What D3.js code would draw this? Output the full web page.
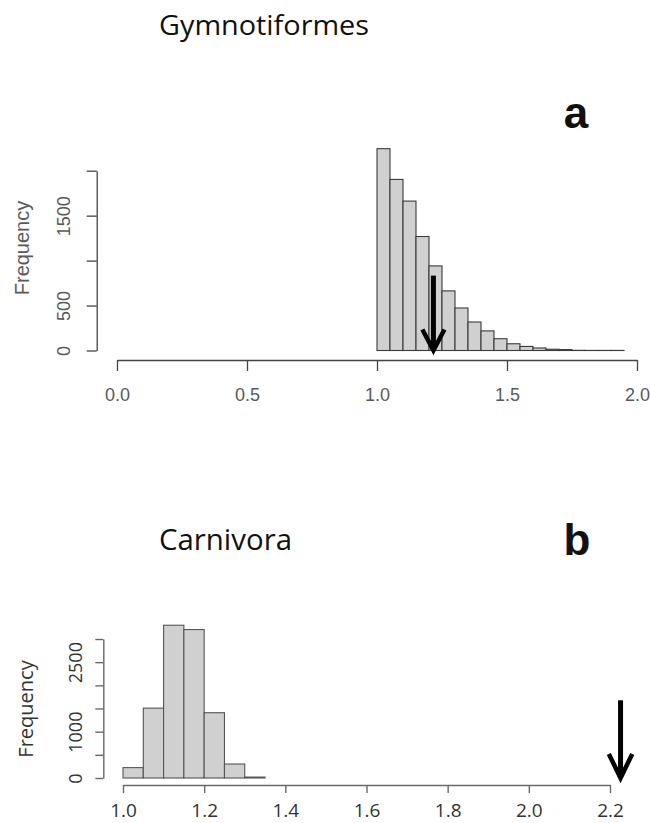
<!DOCTYPE html>
<html>
<head>
<meta charset="utf-8">
<script src="https://cdn.jsdelivr.net/npm/d3@7"></script>
<style>
  html, body { margin: 0; padding: 0; background: #fff; }
  svg { display: block; }
</style>
</head>
<body>
<svg id="chart" width="650" height="823"></svg>
<script>
// ---------- Panel a: Gymnotiformes ----------
const gymnoEdges = [1.00,1.05,1.10,1.15,1.20,1.25,1.30,1.35,1.40,1.45,1.50,1.55,1.60,1.65,1.70,1.75,1.80,1.85,1.90,1.95];
const gymnoCounts = [2245,1903,1662,1268,941,663,473,317,218,131,75,45,28,14,10,2,1,1,1];
const gymnoXTicks = [0.0, 0.5, 1.0, 1.5, 2.0];
const gymnoYTicks = [0, 500, 1000, 1500, 2000];
const gymnoYLabels = [0, 500, 1500];
const gymnoArrow = [1.217, 833];   // observed value, arrow top (frequency)

// ---------- Panel b: Carnivora ----------
const carnEdges = [1.00,1.05,1.10,1.15,1.20,1.25,1.30,1.35,1.40,1.45,1.50,1.55,1.60,1.65,1.70,1.75,1.80,1.85,1.90,1.95,2.00,2.05,2.10,2.15,2.20,2.25];
const carnCounts = [224,1508,3297,3204,1409,302,20,0,0,0,0,0,0,0,0,0,0,0,0,0,0,0,0,0,0];
const carnXTicks = [1.0, 1.2, 1.4, 1.6, 1.8, 2.0, 2.2];
const carnYTicks = [0, 500, 1000, 1500, 2000, 2500, 3000];
const carnYLabels = [0, 1000, 2500];
const carnArrow = [2.226, 1677];

const svg = d3.select("#chart");
svg.append("rect").attr("width", 650).attr("height", 823).attr("fill", "#fff");

function bins(edges, counts) {
  return counts.map((c, i) => ({x0: edges[i], x1: edges[i + 1], n: c}));
}

function drawArrow(g, x, y, xv, top, half, headH) {
  const px = x(xv), y0 = y(0), yt = y(top);
  g.append("line")
    .attr("x1", px).attr("x2", px).attr("y1", yt).attr("y2", y0 - 2)
    .attr("stroke", "#000").attr("stroke-width", 5);
  g.append("path")
    .attr("d", d3.line()([[px - half, y0 - headH], [px, y0], [px + half, y0 - headH]]))
    .attr("fill", "none").attr("stroke", "#000").attr("stroke-width", 4.5)
    .attr("stroke-linejoin", "miter").attr("stroke-miterlimit", 10);
}

// ===== Panel a =====
{
  const x = d3.scaleLinear().domain([0, 2]).range([117, 637]);
  const y = d3.scaleLinear().domain([0, 2000]).range([350.5, 170.7]);
  const g = svg.append("g");
  const axisCol = "#444", textCol = "#5a5a5a";

  g.selectAll("rect.bar").data(bins(gymnoEdges, gymnoCounts)).join("rect")
    .attr("class", "bar")
    .attr("x", d => x(d.x0)).attr("width", d => x(d.x1) - x(d.x0))
    .attr("y", d => y(d.n)).attr("height", d => y(0) - y(d.n))
    .attr("fill", "#d0d0d0").attr("stroke", "#3a3a3a").attr("stroke-width", 1.1);

  const xa = g.append("g").attr("transform", "translate(0,360)")
    .call(d3.axisBottom(x).tickValues(gymnoXTicks).tickSize(11).tickSizeOuter(0).tickPadding(4)
      .tickFormat(d3.format(".1f")));
  xa.select(".domain").attr("stroke", axisCol).attr("stroke-width", 1.3);
  xa.selectAll(".tick line").attr("stroke", axisCol).attr("stroke-width", 1.3);
  xa.selectAll(".tick text").attr("y", 41).attr("dy", 0)
    .attr("font-family", "Liberation Sans, Arial, sans-serif").attr("font-size", 18).attr("fill", textCol);

  const ya = g.append("g").attr("transform", "translate(96.7,0)")
    .call(d3.axisLeft(y).tickValues(gymnoYTicks).tickSize(10).tickSizeOuter(0)
      .tickFormat(d => gymnoYLabels.includes(d) ? String(d) : ""));
  ya.select(".domain").attr("stroke", axisCol).attr("stroke-width", 1.3);
  ya.selectAll(".tick line").attr("stroke", axisCol).attr("stroke-width", 1.3);
  ya.selectAll(".tick text").attr("x", 0).attr("dy", 0).attr("text-anchor", "middle")
    .attr("transform", "translate(-27,0) rotate(-90)")
    .attr("font-family", "Liberation Sans, Arial, sans-serif").attr("font-size", 18).attr("fill", textCol);

  g.append("text").attr("transform", "translate(29,248) rotate(-90)")
    .attr("text-anchor", "middle").attr("font-family", "Liberation Sans, Arial, sans-serif")
    .attr("font-size", 20).attr("fill", textCol).text("Frequency");

  drawArrow(g, x, y, gymnoArrow[0], gymnoArrow[1], 11, 21);

  svg.append("text").attr("x", 159).attr("y", 35)
    .attr("font-family", "Open Sans, sans-serif").attr("font-size", 28).attr("fill", "#111")
    .attr("textLength", 210).attr("lengthAdjust", "spacingAndGlyphs").text("Gymnotiformes");
  svg.append("text").attr("x", 576).attr("y", 128).attr("text-anchor", "middle")
    .attr("font-family", "Liberation Sans, Arial, sans-serif").attr("font-weight", "bold")
    .attr("font-size", 44).attr("fill", "#111").text("a");
}

// ===== Panel b =====
{
  const x = d3.scaleLinear().domain([1.0, 2.2]).range([123, 610]);
  const y = d3.scaleLinear().domain([0, 3000]).range([778, 639]);
  const g = svg.append("g");
  const axisCol = "#6a6a6a", textCol = "#333";

  g.selectAll("rect.bar").data(bins(carnEdges, carnCounts)).join("rect")
    .attr("class", "bar")
    .attr("x", d => x(d.x0)).attr("width", d => x(d.x1) - x(d.x0))
    .attr("y", d => y(d.n)).attr("height", d => y(0) - y(d.n))
    .attr("fill", "#d0d0d0").attr("stroke", "#555").attr("stroke-width", 1.1);

  const xa = g.append("g").attr("transform", "translate(0,785)")
    .call(d3.axisBottom(x).tickValues(carnXTicks).tickSize(8).tickSizeOuter(0)
      .tickFormat(d3.format(".1f")));
  xa.select(".domain").attr("stroke", axisCol).attr("stroke-width", 1.4);
  xa.selectAll(".tick line").attr("stroke", axisCol).attr("stroke-width", 1.4);
  xa.selectAll(".tick text").attr("y", 32).attr("dy", 0)
    .attr("font-family", "Open Sans, sans-serif").attr("font-size", 19).attr("fill", textCol);

  const ya = g.append("g").attr("transform", "translate(103.3,0)")
    .call(d3.axisLeft(y).tickValues(carnYTicks).tickSize(8).tickSizeOuter(0)
      .tickFormat(d => carnYLabels.includes(d) ? String(d) : ""));
  ya.select(".domain").attr("stroke", axisCol).attr("stroke-width", 1.4);
  ya.selectAll(".tick line").attr("stroke", axisCol).attr("stroke-width", 1.4);
  ya.selectAll(".tick text").attr("x", 0).attr("dy", 0).attr("text-anchor", "middle")
    .attr("transform", "translate(-21.5,0) rotate(-90)")
    .attr("font-family", "Open Sans, sans-serif").attr("font-size", 18).attr("fill", textCol);

  g.append("text").attr("transform", "translate(33,709) rotate(-90)")
    .attr("text-anchor", "middle").attr("font-family", "Open Sans, sans-serif")
    .attr("font-size", 20).attr("fill", textCol).text("Frequency");

  drawArrow(g, x, y, carnArrow[0], carnArrow[1], 11.7, 24);

  svg.append("text").attr("x", 159).attr("y", 550)
    .attr("font-family", "Open Sans, sans-serif").attr("font-size", 29).attr("fill", "#111")
    .attr("textLength", 133).attr("lengthAdjust", "spacingAndGlyphs").text("Carnivora");
  svg.append("text").attr("x", 577).attr("y", 555).attr("text-anchor", "middle")
    .attr("font-family", "Liberation Sans, Arial, sans-serif").attr("font-weight", "bold")
    .attr("font-size", 44).attr("fill", "#111").text("b");
}
</script>
</body>
</html>
